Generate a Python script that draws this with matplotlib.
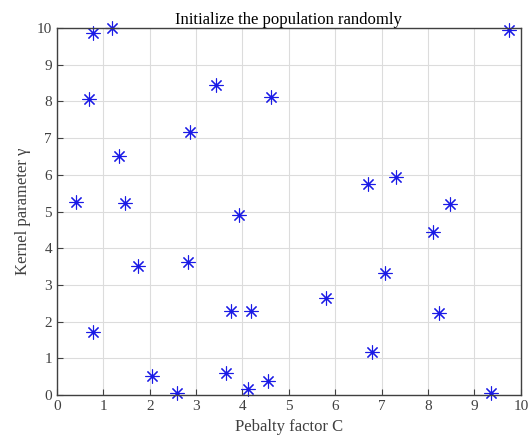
import numpy as np
import matplotlib.pyplot as plt

# Population: penalty factor C and kernel parameter gamma
C_vals = [0.77, 1.18, 0.69, 1.34, 0.41, 1.47, 2.87, 3.42, 3.93, 4.61,
          9.75, 6.70, 7.31, 8.47,
          1.75, 2.82, 0.77, 3.76, 4.18, 2.05, 2.59, 3.64, 4.12, 4.54,
          8.11, 7.08, 5.80, 8.24, 6.80, 9.35]
gamma_vals = [9.86, 9.99, 8.07, 6.52, 5.27, 5.24, 7.17, 8.44, 4.92, 8.13,
              9.96, 5.74, 5.94, 5.20,
              3.53, 3.62, 1.72, 2.29, 2.29, 0.51, 0.06, 0.61, 0.18, 0.38,
              4.44, 3.34, 2.66, 2.25, 1.18, 0.05]

plt.rcParams['font.family'] = ['Liberation Serif', 'DejaVu Serif']

fig = plt.figure(figsize=(5.32, 4.45), dpi=100)
ax = fig.add_axes([0.107, 0.112, 0.872, 0.825])

ax.plot(C_vals, gamma_vals, linestyle='none', marker=(8, 2, 0),
        color='#1a1ae6', markersize=10, markeredgewidth=0.8, clip_on=False)

ax.set_xlim(0, 10)
ax.set_ylim(0, 10)
ax.set_xticks(np.arange(0, 11, 1))
ax.set_yticks(np.arange(0, 11, 1))
ax.grid(True, color='#dcdcdc', linewidth=0.8)
ax.set_axisbelow(True)
ax.tick_params(direction='in', length=4, labelsize=11, colors='#404040',
               top=False, right=False)
for s in ax.spines.values():
    s.set_color('#404040')
    s.set_linewidth(1.0)

ax.set_title('Initialize the population randomly', fontsize=12, pad=3)
ax.set_xlabel('Pebalty factor C', fontsize=12, color='#404040')
ax.set_ylabel('Kernel parameter γ', fontsize=12, color='#404040')

fig.savefig('out.png', dpi=100)
